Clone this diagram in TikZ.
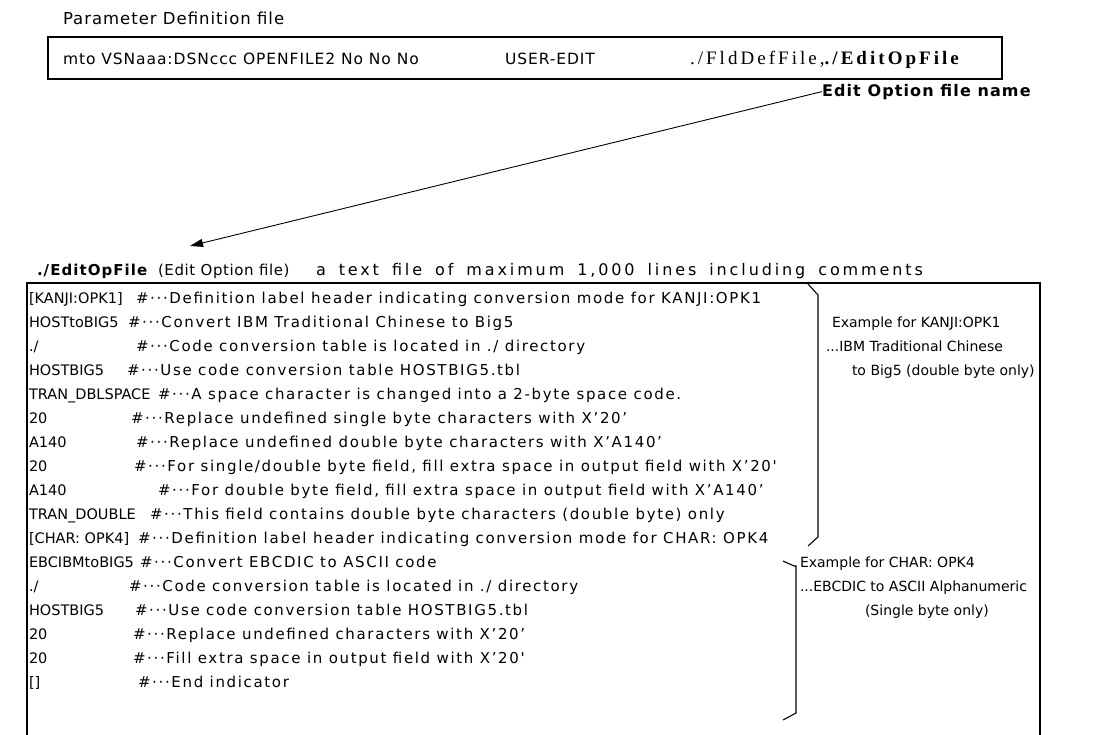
\documentclass[tikz,border=0pt]{standalone}
\usepackage{fontspec}
\setmainfont{DejaVu Sans}
\newfontfamily\cmtfont[LetterSpace=11]{DejaVu Sans}
\newfontfamily\ttlfont[LetterSpace=6]{DejaVu Sans}
\newfontfamily\boxfont[LetterSpace=6]{DejaVu Sans}
\newfontfamily\descfont[LetterSpace=18]{DejaVu Sans}
\newfontfamily\subfont[LetterSpace=4]{DejaVu Sans}
\newfontfamily\bldfont[LetterSpace=7]{DejaVu Sans Bold}
\newfontfamily\sfont[LetterSpace=16]{Liberation Serif}
\newfontfamily\sbfont[LetterSpace=16]{Liberation Serif Bold}
\usetikzlibrary{arrows.meta}
\begin{document}
\begin{tikzpicture}[x=1pt,y=-1pt,
  every node/.style={inner sep=0pt, outer sep=0pt},
  txt/.style={anchor=base west, font=\fontsize{14.5}{16}\selectfont},
  cmt/.style={anchor=base west, font=\fontsize{15}{17}\cmtfont},
  note/.style={anchor=base west, font=\fontsize{14}{16}\selectfont},
  frame/.style={draw, line width=1.3pt},
  brk/.style={draw, line width=1.1pt},
  arr/.style={draw, line width=0.9pt, -{Triangle[length=13pt,width=8pt]}}]
\useasboundingbox[fill=white] (0,0) rectangle (1106,734);

% Parameter definition file
\node[anchor=base west, font=\fontsize{16.5}{18}\ttlfont] (ptitle) at (63,24) {Parameter Definition file};
\node[frame, minimum width=954pt, minimum height=42pt] (pbox) at (525,58) {};
\node[anchor=base west, font=\fontsize{15.5}{17}\boxfont] (pline) at (63,64) {mto VSNaaa:DSNccc OPENFILE2 No No No};
\node[anchor=base west, font=\fontsize{15.5}{17}\boxfont] (puser) at (505,64) {USER-EDIT};
\node[anchor=base west, font=\fontsize{19}{21}\sfont] (pfile) at (690,64) {./FldDefFile,{\sbfont ./EditOpFile}};

% label and arrow
\node[anchor=base west, font=\fontsize{16}{18}\bldfont] (lbl) at (822,96) {Edit Option file name};
\coordinate (tip) at (190,246);
\draw[arr] (lbl.west) -- (tip);

% EditOpFile header
\node[anchor=base west, font=\fontsize{15}{17}\bldfont] (ehead) at (37,275) {./EditOpFile};
\node[anchor=base west, font=\fontsize{15}{17}\subfont] (esub) at (158,275) {(Edit Option file)};
\node[anchor=base west, font=\fontsize{16}{18}\descfont] (edesc) at (316,275) {\spaceskip=13pt a text file of maximum 1,000 lines including comments};

% big frame (open at the bottom edge)
\draw[frame] (27,745) -- (27,283) -- (1040,283) -- (1040,745);

% lines
\node[txt] (k1) at (29,303) {[KANJI:OPK1]};
\node[cmt] (c1) at (136,303) {\#···Definition label header indicating conversion mode for KANJI:OPK1};
\node[txt] (k2) at (29,327) {HOSTtoBIG5};
\node[cmt] (c2) at (128,327) {\#···Convert IBM Traditional Chinese to Big5};
\node[txt] (k3) at (29,351) {./};
\node[cmt] (c3) at (136,351) {\#···Code conversion table is located in ./ directory};
\node[txt] (k4) at (29,375) {HOSTBIG5};
\node[cmt] (c4) at (127,375) {\#···Use code conversion table HOSTBIG5.tbl};
\node[txt] (k5) at (29,399) {TRAN\_DBLSPACE};
\node[cmt] (c5) at (158,399) {\#···A space character is changed into a 2-byte space code.};
\node[txt] (k6) at (29,423) {20};
\node[cmt] (c6) at (131,423) {\#···Replace undefined single byte characters with X’20’};
\node[txt] (k7) at (29,447) {A140};
\node[cmt] (c7) at (136,447) {\#···Replace undefined double byte characters with X’A140’};
\node[txt] (k8) at (29,471) {20};
\node[cmt] (c8) at (134,471) {\#···For single/double byte field, fill extra space in output field with X’20'};
\node[txt] (k9) at (29,495) {A140};
\node[cmt] (c9) at (158,495) {\#···For double byte field, fill extra space in output field with X’A140’};
\node[txt] (k10) at (29,519) {TRAN\_DOUBLE};
\node[cmt] (c10) at (150,519) {\#···This field contains double byte characters (double byte) only};
\node[txt] (k11) at (29,543) {[CHAR: OPK4]};
\node[cmt] (c11) at (138,543) {\#···Definition label header indicating conversion mode for CHAR: OPK4};
\node[txt] (k12) at (29,567) {EBCIBMtoBIG5};
\node[cmt] (c12) at (140,567) {\#···Convert EBCDIC to ASCII code};
\node[txt] (k13) at (29,591) {./};
\node[cmt] (c13) at (129,591) {\#···Code conversion table is located in ./ directory};
\node[txt] (k14) at (29,615) {HOSTBIG5};
\node[cmt] (c14) at (135,615) {\#···Use code conversion table HOSTBIG5.tbl};
\node[txt] (k15) at (29,639) {20};
\node[cmt] (c15) at (133,639) {\#···Replace undefined characters with X’20’};
\node[txt] (k16) at (29,663) {20};
\node[cmt] (c16) at (133,663) {\#···Fill extra space in output field with X’20'};
\node[txt] (k17) at (29,687) {[]};
\node[cmt] (c17) at (138,687) {\#···End indicator};

% brackets
\draw[brk] (808,284) -- (818,295) -- (818,537) -- (808,546);
\draw[brk] (783,561) -- (794,566) -- (796,566) -- (796,713) -- (783,720);

% notes
\node[note] (n1) at (832,327) {Example for KANJI:OPK1};
\node[note] (n2) at (826,351) {...IBM Traditional Chinese};
\node[note] (n3) at (852,375) {to Big5 (double byte only)};
\node[note] (n4) at (800,567) {Example for CHAR: OPK4};
\node[note] (n5) at (800,591) {...EBCDIC to ASCII Alphanumeric};
\node[note] (n6) at (865,615) {(Single byte only)};
\end{tikzpicture}
\end{document}
